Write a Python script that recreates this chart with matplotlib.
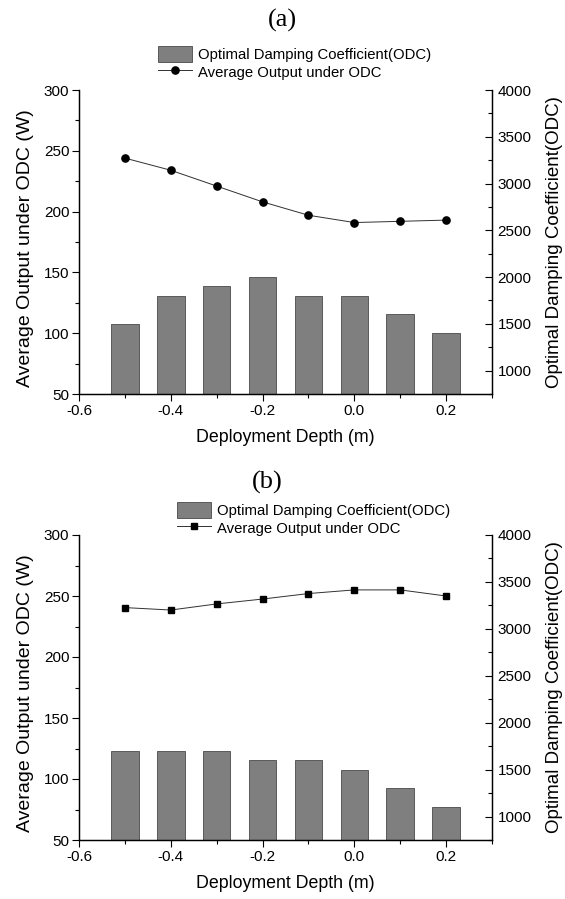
import matplotlib
matplotlib.use("Agg")
import matplotlib.pyplot as plt
from matplotlib.ticker import MultipleLocator, FixedLocator

plt.rcParams['font.family'] = ['Liberation Sans', 'DejaVu Sans']
plt.rcParams['axes.unicode_minus'] = False

# data
depth = [-0.5, -0.4, -0.3, -0.2, -0.1, 0.0, 0.1, 0.2]
x_ticks = [-0.6, -0.4, -0.2, 0.0, 0.2]
x_ticklabels = ['-0.6', '-0.4', '-0.2', '0.0', '0.2']

odc_a = [1500, 1800, 1900, 2000, 1800, 1800, 1600, 1400]
power_a = [244, 234, 221, 208, 197, 191, 192, 193]

odc_b = [1700, 1700, 1700, 1600, 1600, 1500, 1300, 1100]
power_b = [240.5, 238.5, 243.5, 247.5, 252, 255, 255, 250]

W, H = 565, 899
fig = plt.figure(figsize=(W / 100, H / 100), dpi=100)


def draw_panel(rect, odc, power, marker, ms, tag, tag_xy, leg_xy):
    ax = fig.add_axes(rect)
    ax2 = ax.twinx()
    ax.set_zorder(ax2.get_zorder() + 1)
    ax.patch.set_visible(False)

    bars = ax2.bar(depth, odc, width=0.06, color='#7f7f7f', edgecolor='#4a4a4a',
                   linewidth=0.6, label='Optimal Damping Coefficient(ODC)')
    line, = ax.plot(depth, power, color='#303030', lw=0.7, marker=marker, ms=ms,
                    mfc='black', mec='black', label='Average Output under ODC')

    ax.set_xlim(-0.6, 0.3)
    ax.set_ylim(50, 300)
    ax2.set_ylim(750, 4000)

    ax.xaxis.set_major_locator(FixedLocator(x_ticks))
    ax.set_xticklabels(x_ticklabels)
    ax.xaxis.set_minor_locator(MultipleLocator(0.1))
    ax.yaxis.set_major_locator(MultipleLocator(50))
    ax.yaxis.set_minor_locator(MultipleLocator(25))
    ax2.yaxis.set_major_locator(FixedLocator([1000, 1500, 2000, 2500, 3000, 3500, 4000]))
    ax2.yaxis.set_minor_locator(MultipleLocator(250))

    for a in (ax, ax2):
        a.spines['top'].set_visible(False)
        for s in a.spines.values():
            s.set_linewidth(0.9)
    ax.tick_params(which='major', direction='out', length=5, width=0.8, labelsize=11, pad=2)
    ax.tick_params(which='minor', direction='out', length=3, width=0.8)
    ax2.tick_params(which='major', direction='in', length=5, width=0.8, labelsize=11, pad=4)
    ax2.tick_params(which='minor', direction='in', length=3, width=0.8)

    ax.set_xlabel('Deployment Depth (m)', fontsize=12.8)
    ax.xaxis.set_label_coords(0.5, -0.115)
    ax.set_ylabel('Average Output under ODC (W)', fontsize=14)
    ax.yaxis.set_label_coords(-0.11, 0.48)
    ax2.set_ylabel('Optimal Damping Coefficient(ODC)', fontsize=13.5, rotation=90)
    ax2.yaxis.set_label_coords(1.13, 0.5)

    fig.legend([bars, line], [bars.get_label(), line.get_label()],
               loc='upper left', bbox_to_anchor=leg_xy, frameon=False,
               fontsize=10.7, borderpad=0, borderaxespad=0,
               handlelength=2.3, handleheight=1.3, handletextpad=0.4,
               labelspacing=0.1)
    fig.text(tag_xy[0], tag_xy[1], tag, family='Liberation Serif', fontsize=19,
             ha='center', va='center')
    return ax


draw_panel([79 / W, 1 - 394 / H, 413 / W, 304 / H], odc_a, power_a, 'o', 5.2,
           '(a)', (282 / W, 1 - 20 / H), (158 / W, 1 - 46 / H))
draw_panel([79 / W, 1 - 840 / H, 413 / W, 305 / H], odc_b, power_b, 's', 4.6,
           '(b)', (267 / W, 1 - 482 / H), (177 / W, 1 - 502 / H))

fig.savefig('out.png', dpi=100)
